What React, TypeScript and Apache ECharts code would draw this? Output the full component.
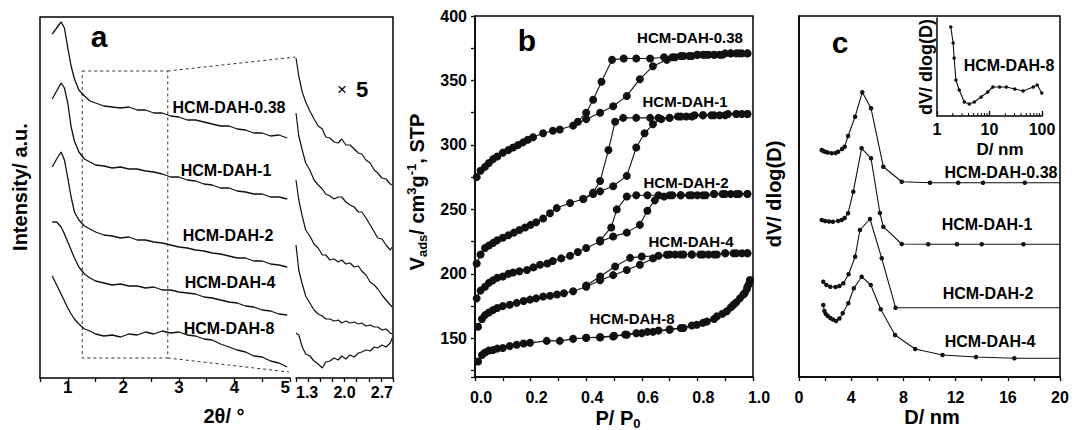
import React, { useEffect, useRef } from 'react';
import * as echarts from 'echarts';

const FONT = '"Liberation Sans", Arial, Helvetica, sans-serif';

// ---------- Panel a : XRD patterns (2θ in degrees, intensity in a.u.) ----------
const xrdTheta = [0.72, 0.8, 0.88, 0.94, 1.0, 1.06, 1.12, 1.2, 1.3, 1.4, 1.5, 1.65, 1.8, 1.95, 2.1, 2.25, 2.4, 2.55, 2.7, 2.85, 3.0, 3.15, 3.3, 3.45, 3.6, 3.75, 3.9, 4.05, 4.2, 4.35, 4.5, 4.65, 4.8, 4.95];
const xrd038 = [344, 350, 356, 350, 330, 312, 299, 288, 282, 277, 275, 272, 271, 270, 271, 268, 268, 265, 265, 262, 261, 258, 258, 256, 254, 252, 252, 249, 248, 245, 245, 242, 243, 240];
const xrd1 = [279, 287, 295, 290, 275, 251, 237, 226, 219, 216, 213, 212, 210, 211, 209, 209, 207, 206, 204, 201, 201, 198, 197, 194, 193, 190, 190, 187, 186, 184, 184, 181, 181, 179];
const xrd2 = [211, 219, 226, 218, 200, 181, 166, 158, 152, 149, 146, 143, 142, 140, 141, 138, 138, 136, 135, 133, 131, 130, 128, 127, 125, 124, 122, 120, 120, 117, 117, 114, 113, 111];
const xrd4 = [156, 156, 151, 144, 136, 128, 120, 111, 104, 100, 97, 95, 93, 94, 92, 92, 90, 91, 88, 88, 86, 85, 84, 81, 80, 78, 76, 75, 72, 71, 68, 67, 64, 63];
const xrd8 = [102, 93, 84, 77, 70, 64, 59, 54, 49, 47, 44, 42, 43, 41, 44, 43, 46, 44, 47, 45, 46, 43, 42, 39, 38, 34, 31, 28, 26, 22, 21, 17, 15, 11];

// magnified (x5) region 1.3–2.7°
const zoomTheta = [1.3, 1.34, 1.39, 1.44, 1.5, 1.56, 1.62, 1.68, 1.73, 1.79, 1.85, 1.91, 1.96, 2.02, 2.08, 2.14, 2.2, 2.25, 2.31, 2.37, 2.43, 2.48, 2.54, 2.6, 2.66, 2.69];
const zoom038 = [320, 302, 286, 276, 267, 259, 252, 249, 241, 240, 236, 235, 239, 233, 233, 229, 225, 224, 218, 215, 208, 205, 200, 199, 194, 193];
const zoom1 = [265, 242, 228, 215, 208, 198, 193, 189, 184, 182, 179, 181, 181, 176, 173, 171, 166, 166, 160, 153, 146, 140, 139, 133, 128, 131];
const zoom2 = [198, 178, 162, 148, 142, 134, 130, 123, 123, 118, 119, 116, 118, 114, 115, 111, 112, 107, 103, 96, 93, 89, 83, 78, 73, 71];
const zoom4 = [133, 108, 94, 82, 75, 68, 64, 62, 59, 59, 57, 58, 55, 57, 55, 56, 54, 55, 52, 53, 51, 51, 48, 49, 45, 44];
const zoom8 = [45, 43, 31, 24, 22, 17, 14, 10, 16, 17, 20, 18, 22, 19, 23, 21, 25, 26, 28, 27, 31, 30, 33, 31, 35, 40];

// ---------- Panel b : N2 isotherms (P/P0, V cm3/g STP) ----------
const iso038Ads = [[0.006, 275], [0.02, 280], [0.036, 283], [0.05, 286], [0.065, 289], [0.08, 291], [0.1, 294], [0.12, 296], [0.137, 298], [0.155, 300], [0.173, 302], [0.19, 304], [0.209, 306], [0.245, 309], [0.28, 311], [0.305, 312], [0.353, 315], [0.4, 320], [0.45, 325], [0.497, 330], [0.546, 338], [0.593, 351], [0.64, 361], [0.69, 366], [0.72, 368], [0.75, 369], [0.78, 369], [0.8, 370], [0.82, 370], [0.84, 370], [0.86, 370], [0.88, 370], [0.9, 371], [0.92, 371], [0.94, 371], [0.96, 371], [0.98, 371]];
const iso038Des = [[0.98, 371], [0.95, 371], [0.92, 371], [0.89, 370], [0.86, 370], [0.83, 370], [0.8, 370], [0.77, 369], [0.74, 369], [0.71, 368], [0.68, 368], [0.63, 367], [0.58, 367], [0.535, 367], [0.493, 366], [0.455, 349], [0.425, 335], [0.4, 325], [0.37, 318]];
const iso1Ads = [[0.006, 208], [0.02, 215], [0.036, 220], [0.05, 222], [0.065, 224], [0.08, 226], [0.1, 228], [0.12, 230], [0.14, 232], [0.16, 234], [0.18, 236], [0.2, 238], [0.22, 240], [0.245, 243], [0.27, 247], [0.294, 251], [0.342, 255], [0.389, 258], [0.425, 262], [0.45, 264], [0.497, 268], [0.546, 276], [0.58, 298], [0.61, 309], [0.64, 316], [0.67, 320], [0.7, 321], [0.73, 322], [0.76, 322], [0.79, 323], [0.82, 323], [0.85, 323], [0.88, 323], [0.91, 324], [0.94, 324], [0.96, 324], [0.98, 324]];
const iso1Des = [[0.98, 324], [0.94, 324], [0.9, 323], [0.86, 323], [0.82, 323], [0.78, 322], [0.74, 322], [0.7, 321], [0.66, 321], [0.63, 321], [0.58, 321], [0.533, 321], [0.504, 318], [0.48, 296], [0.45, 272], [0.425, 263], [0.39, 258]];
const iso2Ads = [[0.006, 181], [0.02, 187], [0.036, 190], [0.05, 193], [0.065, 195], [0.08, 197], [0.1, 198], [0.12, 200], [0.137, 201], [0.16, 202], [0.187, 203], [0.21, 205], [0.234, 207], [0.26, 208], [0.28, 210], [0.31, 212], [0.342, 214], [0.37, 217], [0.4, 220], [0.45, 225], [0.497, 229], [0.546, 232], [0.593, 238], [0.62, 249], [0.647, 257], [0.68, 260], [0.71, 261], [0.74, 261], [0.77, 261], [0.8, 261], [0.83, 261], [0.86, 262], [0.89, 262], [0.92, 262], [0.95, 262], [0.98, 262]];
const iso2Des = [[0.98, 262], [0.94, 262], [0.9, 262], [0.86, 262], [0.82, 261], [0.78, 261], [0.74, 261], [0.7, 261], [0.66, 261], [0.62, 261], [0.58, 261], [0.546, 260], [0.51, 250], [0.49, 236], [0.45, 226]];
const iso4Ads = [[0.011, 159], [0.025, 165], [0.036, 168], [0.05, 170], [0.065, 172], [0.08, 173.5], [0.1, 175], [0.125, 176], [0.15, 177.5], [0.175, 179], [0.198, 180], [0.22, 181], [0.245, 182.5], [0.27, 183], [0.295, 184], [0.32, 185], [0.353, 186.5], [0.4, 190], [0.45, 195], [0.497, 199], [0.546, 203], [0.593, 207], [0.64, 212], [0.69, 214.8], [0.72, 215], [0.75, 215], [0.78, 215], [0.81, 215], [0.84, 215], [0.87, 215], [0.9, 216], [0.93, 216], [0.96, 216], [0.98, 216]];
const iso4Des = [[0.98, 216], [0.94, 216], [0.9, 216], [0.86, 215], [0.82, 215], [0.78, 215], [0.74, 215], [0.7, 215], [0.66, 214], [0.6, 213.4], [0.558, 212.4], [0.504, 205.7], [0.45, 198], [0.4, 191]];
const iso8Ads = [[0.011, 132], [0.025, 137], [0.036, 139], [0.05, 140.5], [0.065, 141], [0.08, 142], [0.1, 142.5], [0.125, 144], [0.15, 145], [0.175, 146], [0.198, 146.5], [0.258, 148], [0.305, 148], [0.353, 149.6], [0.4, 150.4], [0.45, 150.7], [0.497, 151.4], [0.546, 152.8], [0.6, 154], [0.64, 155], [0.7, 156.7], [0.75, 158], [0.798, 160.5], [0.834, 163], [0.87, 167], [0.906, 171], [0.93, 176], [0.953, 181], [0.97, 185], [0.978, 188], [0.985, 192], [0.989, 195]];
const iso8Des = [[0.989, 195], [0.98, 190], [0.965, 184], [0.94, 178], [0.92, 174], [0.89, 169], [0.86, 165], [0.82, 162], [0.78, 160], [0.74, 158], [0.7, 157], [0.66, 156], [0.62, 155], [0.58, 154], [0.54, 153], [0.5, 152], [0.45, 151], [0.4, 150.5]];

// ---------- Panel c : pore size distributions (D nm, dV/dlogD a.u.) ----------
const psd038 = [[1.74, 227], [1.85, 226], [2.0, 225.3], [2.2, 224.5], [2.5, 223.7], [2.8, 224], [3.0, 225.3], [3.3, 228], [3.5, 230.3], [3.76, 241], [4.3, 260.3], [4.85, 284.7], [5.52, 268.7], [6.46, 210.3], [7.87, 195.3], [10.04, 194.3], [12.2, 194.3], [14.1, 194.3], [17.3, 194.3], [20, 194.3]];
const psd1 = [[1.74, 157], [2.0, 156], [2.3, 155.5], [2.6, 155.3], [3.0, 156], [3.27, 157], [3.5, 159], [3.76, 163.7], [4.16, 185.3], [4.8, 228.7], [5.52, 218.7], [6.2, 164], [6.46, 150.3], [7.87, 133], [9.9, 132.7], [12.1, 132.7], [14.0, 132.7], [17.2, 132.7], [20, 132.7]];
const psd2 = [[1.86, 95.3], [2.1, 92], [2.4, 90.3], [2.8, 90], [3.1, 91], [3.4, 93.7], [3.8, 102.7], [4.3, 120.3], [4.67, 147], [5.44, 158], [6.34, 118.7], [7.4, 69.3], [20, 69.3]];
const psd4 = [[1.86, 72], [1.95, 66], [2.05, 63], [2.2, 61], [2.4, 59], [2.6, 57.5], [2.84, 56], [3.1, 58.5], [3.35, 63.7], [3.78, 73.7], [4.2, 88.7], [4.8, 100.3], [5.5, 92], [6.26, 67.7], [7.36, 42], [8.9, 28], [11.0, 22], [13.56, 20], [16.5, 18.7], [20, 18.7]];
const psd8Inset = [[1.83, 89], [2.03, 73], [2.12, 58], [2.29, 36], [2.65, 26], [3.31, 14], [4.12, 12], [5.14, 14], [6.92, 19], [9.27, 24], [11.6, 29], [15.6, 29], [20.9, 29], [30.2, 27], [43.7, 25], [68, 29], [81, 31], [99, 23]];

const logMinor = [2, 3, 4, 5, 6, 7, 8, 9, 20, 30, 40, 50, 60, 70, 80, 90];

// ---------- layout ----------
const GA = { left: 40, top: 17, width: 250, height: 361 };
const GAI = { left: 296, top: 17, width: 97, height: 361 };
const GB = { left: 475, top: 16, width: 278, height: 361 };
const GC = { left: 799, top: 16, width: 261, height: 361 };
const GCI = { left: 937, top: 18, width: 105, height: 98 };

const LINE = { show: true, lineStyle: { color: '#000', width: 1.5 } };
const lbl = (size: number, extra: any = {}) => ({ color: '#000', fontFamily: FONT, fontWeight: 'bold', fontSize: size, ...extra });
const tick = (len: number, inside = false) => ({ show: true, length: len, inside, lineStyle: { color: '#000', width: 1.3 } });

function zip(xs: number[], ys: number[]) {
  return xs.map((x, i) => [x, ys[i]]);
}

function buildOption(): any {
  const grids = [GA, GAI, GB, GC, GCI].map((g, i) => ({
    ...g,
    containLabel: false,
    outerBoundsMode: 'none',
    show: i === 2 || i === 3,
    borderColor: '#000',
    borderWidth: 1.5,
    backgroundColor: 'transparent',
  }));

  const xAxis = [
    {
      gridIndex: 0, type: 'value', min: 0.5, max: 5, interval: 0.5,
      axisLine: LINE, axisTick: tick(4), splitLine: { show: false },
      axisLabel: lbl(17, { margin: 1, alignMaxLabel: 'right', formatter: (v: number) => (Number.isInteger(v) ? String(v) : '') }),
    },
    {
      gridIndex: 1, type: 'value', min: 1.3, max: 2.7, interval: 0.7,
      axisLine: LINE, axisTick: tick(4), minorTick: { show: true, splitNumber: 4, length: 4, lineStyle: { color: '#000', width: 1.3 } },
      splitLine: { show: false }, minorSplitLine: { show: false },
      axisLabel: lbl(16, { margin: 6, alignMinLabel: 'left', alignMaxLabel: 'right', formatter: (v: number) => v.toFixed(1) }),
    },
    {
      gridIndex: 2, type: 'value', min: 0, max: 1, interval: 0.2,
      axisLine: LINE, axisTick: tick(4), minorTick: { show: true, splitNumber: 2, length: 4, lineStyle: { color: '#000', width: 1.3 } },
      splitLine: { show: false },
      axisLabel: lbl(16, { margin: 12, padding: [0, 0, 0, 12], formatter: (v: number) => v.toFixed(1) }),
    },
    {
      gridIndex: 3, type: 'value', min: 0, max: 20, interval: 4,
      axisLine: LINE, axisTick: tick(4), minorTick: { show: true, splitNumber: 2, length: 4, lineStyle: { color: '#000', width: 1.3 } },
      splitLine: { show: false },
      axisLabel: lbl(16, { margin: 12 }),
    },
    {
      gridIndex: 4, type: 'log', logBase: 10, min: 1, max: 100,
      axisLine: LINE, axisTick: tick(5, true), splitLine: { show: false },
      axisLabel: lbl(16, { margin: 5 }),
    },
  ];

  const hiddenY = (gridIndex: number, max: number, extra: any = {}) => ({
    gridIndex, type: 'value', min: 0, max,
    axisLine: LINE, axisTick: { show: false }, axisLabel: { show: false }, splitLine: { show: false },
    ...extra,
  });

  const yAxis = [
    hiddenY(0, 361),
    hiddenY(1, 361, { position: 'right' }),
    {
      gridIndex: 2, type: 'value', min: 120, max: 400, splitNumber: 5,
      axisLine: LINE, axisTick: tick(4), minorTick: { show: true, splitNumber: 2, length: 4, lineStyle: { color: '#000', width: 1.3 } },
      splitLine: { show: false },
      axisLabel: lbl(16, { margin: 8, formatter: (v: number) => (v % 50 === 0 ? String(v) : '') }),
    },
    hiddenY(3, 361),
    hiddenY(4, 98),
  ];

  const series: any[] = [];
  const line = (xi: number, data: any[], width = 1.2) => ({
    type: 'line', xAxisIndex: xi, yAxisIndex: xi, data, showSymbol: false, symbol: 'none',
    lineStyle: { color: '#111', width }, silent: true,
  });
  [xrd038, xrd1, xrd2, xrd4, xrd8].forEach((ys) => series.push(line(0, zip(xrdTheta, ys), 1.3)));
  [zoom038, zoom1, zoom2, zoom4, zoom8].forEach((ys) => series.push(line(1, zip(zoomTheta, ys), 1.2)));

  [iso038Ads, iso038Des, iso1Ads, iso1Des, iso2Ads, iso2Des, iso4Ads, iso4Des, iso8Ads, iso8Des].forEach((d) =>
    series.push({
      type: 'line', xAxisIndex: 2, yAxisIndex: 2, data: d, symbol: 'circle', symbolSize: 8, showSymbol: true,
      itemStyle: { color: '#111', borderWidth: 0 }, lineStyle: { color: '#111', width: 1.1 }, silent: true,
    })
  );

  [psd038, psd1, psd2, psd4].forEach((d) =>
    series.push({
      type: 'line', xAxisIndex: 3, yAxisIndex: 3,
      data: d.map((p, i) => (i === d.length - 1 ? { value: p, symbol: 'none' } : p)),
      symbol: 'circle', symbolSize: 4.5, showSymbol: true,
      itemStyle: { color: '#111', borderWidth: 0 }, lineStyle: { color: '#111', width: 1.1 }, silent: true,
    })
  );
  series.push({
    type: 'line', xAxisIndex: 4, yAxisIndex: 4, data: psd8Inset, symbol: 'circle', symbolSize: 3.5, showSymbol: true,
    itemStyle: { color: '#111', borderWidth: 0 }, lineStyle: { color: '#111', width: 1.1 }, silent: true,
  });

  return {
    animation: false,
    backgroundColor: '#fff',
    grid: grids,
    xAxis,
    yAxis,
    series,
  };
}

const T = (text: string, x: number, y: number, size: number, rot = 0, weight = 'bold', rich?: any) => ({
  type: 'text', x, y, rotation: rot, silent: true, z: 50,
  style: {
    text, fill: '#000', fontSize: size, fontFamily: FONT, fontWeight: weight,
    align: 'center', verticalAlign: 'middle', textAlign: 'center', textVerticalAlign: 'middle',
    ...(rich ? { rich } : {}),
  },
});

function richSet(size: number, small: number) {
  const base = { fontSize: size, fontFamily: FONT, fontWeight: 'bold', fill: '#000', color: '#000', lineHeight: size + 4 };
  return {
    n: { ...base, verticalAlign: 'middle' },
    sub: { ...base, fontSize: small, lineHeight: small + 1, verticalAlign: 'bottom' },
    sup: { ...base, fontSize: small, lineHeight: small + 1, verticalAlign: 'top' },
  };
}

function buildGraphic(chart: any): any[] {
  const P = (g: number, v: number[]) => chart.convertToPixel({ gridIndex: g }, v) as number[];
  const els: any[] = [];
  const black = { stroke: '#000', lineWidth: 1.5 };

  // frame of panel a (top edge across the main + magnified part)
  els.push({ type: 'line', silent: true, shape: { x1: GA.left, y1: GA.top, x2: GAI.left + GAI.width, y2: GA.top }, style: black });

  // dashed selection box and connectors
  const tl = P(0, [1.26, 307]);
  const br = P(0, [2.8, 20]);
  const dash = { stroke: '#333', lineWidth: 1, lineDash: [3, 3], fill: 'none' };
  els.push({ type: 'rect', silent: true, shape: { x: tl[0], y: tl[1], width: br[0] - tl[0], height: br[1] - tl[1] }, style: dash });
  const topEnd = P(1, [1.29, 321]);
  const botEnd = P(0, [4.98, 6]);
  els.push({ type: 'line', silent: true, shape: { x1: br[0], y1: tl[1], x2: topEnd[0], y2: topEnd[1] }, style: dash });
  els.push({ type: 'line', silent: true, shape: { x1: br[0], y1: br[1], x2: botEnd[0], y2: botEnd[1] }, style: dash });

  // log minor ticks of the inset in c
  logMinor.forEach((v) => {
    const p = P(4, [v, 0]);
    els.push({ type: 'line', silent: true, shape: { x1: p[0], y1: p[1], x2: p[0], y2: p[1] - 3 }, style: { stroke: '#000', lineWidth: 1 } });
  });

  // panel letters
  els.push(T('a', 99, 36, 30));
  els.push(T('b', 527, 40, 30));
  els.push(T('c', 840, 42, 30));
  els.push(T('×', 342, 89, 17, 0, 'normal'));
  els.push(T('5', 362, 89, 22));

  // sample labels
  const names = ['HCM-DAH-0.38', 'HCM-DAH-1', 'HCM-DAH-2', 'HCM-DAH-4', 'HCM-DAH-8'];
  const aPos = [[229, 107], [226, 170], [228, 235], [230, 282], [229, 328]];
  aPos.forEach((p, i) => els.push(T(names[i], p[0], p[1], 16)));
  const bPos = [[690, 37], [685, 101], [686, 182], [691, 241], [632, 318]];
  bPos.forEach((p, i) => els.push(T(names[i], p[0], p[1], 15)));
  const cPos = [[1001, 172], [987, 224], [988, 293], [990, 341]];
  cPos.forEach((p, i) => els.push(T(names[i], p[0], p[1], 16)));
  els.push(T(names[4], 1009, 65, 16));

  // axis titles
  const R = Math.PI / 2;
  els.push(T('Intensity/ a.u.', 20, 187, 20, R));
  els.push(T('2θ/ °', 224, 416, 20));
  els.push(T('{n|V}{sub|ads}{n|/ cm}{sup|3}{n|g}{sup|-1}{n|, STP}', 417, 192, 20, R, 'bold', richSet(20, 13)));
  els.push(T('{n|P/ P}{sub|0}', 618, 418, 20, 0, 'bold', richSet(20, 13)));
  els.push(T('dV/ dlog(D)', 774, 194, 20, R));
  els.push(T('D/ nm', 932, 417, 20));
  els.push(T('dV/ dlog(D)', 926, 67, 18, R));
  els.push(T('D/ nm', 1000, 149, 17));
  return els;
}

export default function App() {
  const ref = useRef<HTMLDivElement>(null);
  useEffect(() => {
    const chart = echarts.init(ref.current as HTMLDivElement, undefined, { renderer: 'svg' });
    chart.setOption(buildOption());
    chart.setOption({ graphic: { elements: buildGraphic(chart) } });
    return () => chart.dispose();
  }, []);
  return (
    <div
      ref={ref}
      style={{ position: 'absolute', left: 0, top: 0, width: 1076, height: 430, background: '#fff' }}
    />
  );
}
